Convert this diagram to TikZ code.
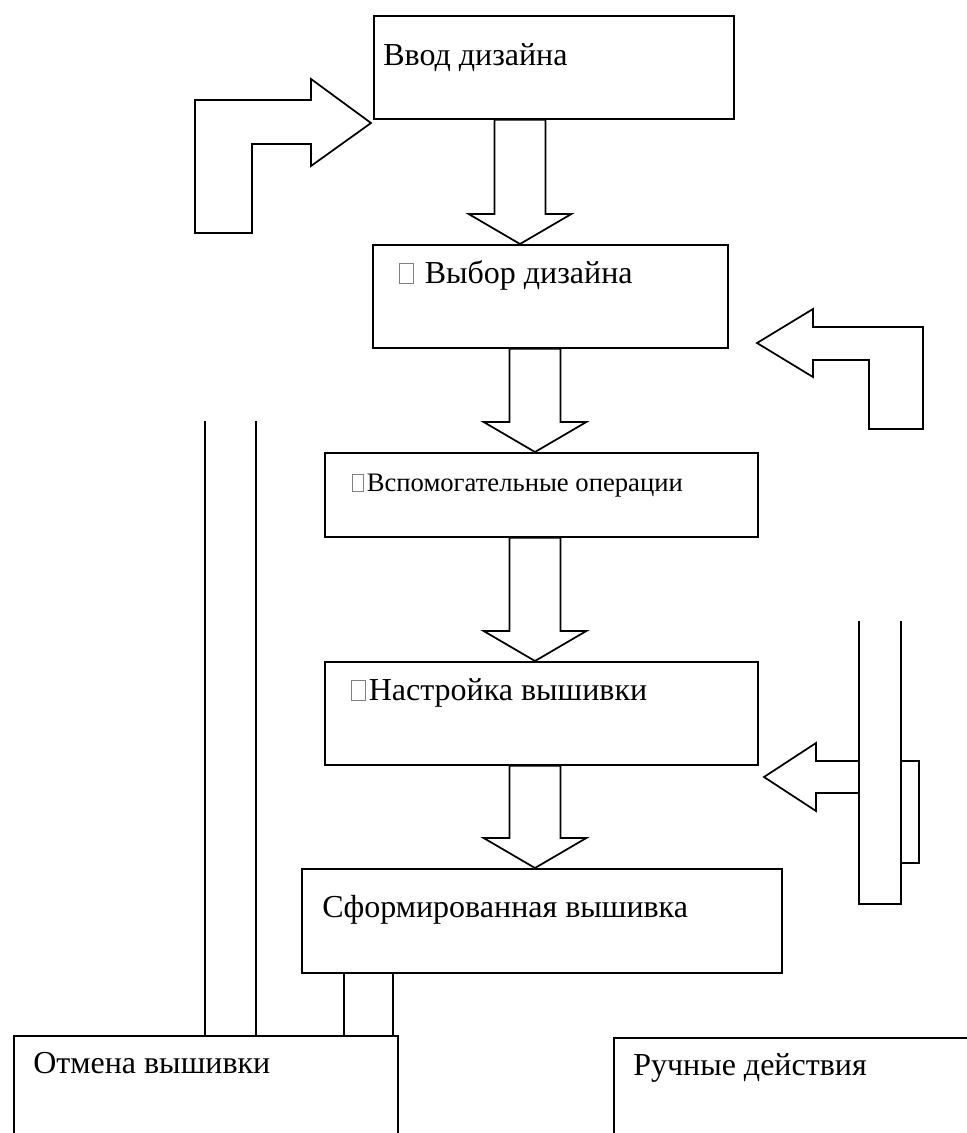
\documentclass[tikz,border=0pt]{standalone}
\usepackage{fontspec}
\setmainfont{Liberation Serif}
\usetikzlibrary{calc}

% empty glyph box as printed in the source
\newcommand{\nochar}{{\color{gray}\setlength{\fboxsep}{0pt}\setlength{\fboxrule}{0.5pt}\kern0.05em\fbox{\rule{0pt}{0.62em}\hspace{0.42em}}\kern0.1em}}

% hollow block arrow from one stage down to the next
\newcommand{\blockdown}[3]{%
  \draw[blockarr] let \p1=(#1,0 |- #2.south), \p2=(#1,0 |- #3.north) in
    (\x1-19.2pt,\y1) -- (\x1-19.2pt,\y2+22.5pt) -- (\x1-38.5pt,\y2+22.5pt) -- (\x1,\y2)
    -- (\x1+38.5pt,\y2+22.5pt) -- (\x1+19.2pt,\y2+22.5pt) -- (\x1+19.2pt,\y1) -- cycle;}

\begin{document}
\begin{tikzpicture}[x=0.75pt,y=-0.75pt,
  stage/.style={draw,line width=1.3pt,anchor=north west,inner sep=0pt},
  stagetext/.style={anchor=base west,inner sep=0pt,font=\fontsize{24}{29}\selectfont},
  smalltext/.style={anchor=base west,inner sep=0pt,font=\fontsize{20}{24}\selectfont},
  blockarr/.style={line width=1.3pt,line join=miter},
  thinline/.style={line width=1pt}]
\useasboundingbox (0,0) rectangle (967,1133);

% stages
\node[stage,minimum width=270pt,minimum height=77.25pt] (vvod) at (373,15) {};
\node[stagetext] (vvodtext) at ([shift={(10,50)}]vvod.north west) {Ввод дизайна};
\node[stage,minimum width=266.25pt,minimum height=77.25pt] (vybor) at (372,244) {};
\node[stagetext] (vybortext) at ([shift={(25,39)}]vybor.north west) {\nochar{} Выбор дизайна};
\node[stage,minimum width=324.75pt,minimum height=63pt] (vspom) at (324,452) {};
\node[smalltext] (vspomtext) at ([shift={(26,39)}]vspom.north west) {\nochar Вспомогательные операции};
\node[stage,minimum width=324.75pt,minimum height=77.25pt] (nastr) at (324,661) {};
\node[stagetext] (nastrtext) at ([shift={(25,39)}]nastr.north west) {\nochar Настройка вышивки};
\node[stage,minimum width=360pt,minimum height=78pt] (sform) at (301,868) {};
\node[stagetext] (sformtext) at ([shift={(21,49)}]sform.north west) {Сформированная вышивка};
\node[stage,minimum width=288pt,minimum height=82.5pt] (otmena) at (13,1035) {};
\node[stagetext] (otmenatext) at ([shift={(20,38)}]otmena.north west) {Отмена вышивки};
\node[stage,minimum width=277.5pt,minimum height=82.5pt] (ruchn) at (613,1037) {};
\node[stagetext] (ruchntext) at ([shift={(20,38)}]ruchn.north west) {Ручные действия};

% main flow
\blockdown{520}{vvod}{vybor}
\blockdown{535}{vybor}{vspom}
\blockdown{535}{vspom}{nastr}
\blockdown{535}{nastr}{sform}

% bent arrows
\draw[blockarr] (195,233) -- (195,100) -- (311,100) -- (311,79) -- (371,123) -- (311,166)
  -- (311,144) -- (252,144) -- (252,233) -- cycle;
\draw[blockarr] (757,343) -- (813,309) -- (813,327) -- (923,327) -- (923,429) -- (869,429)
  -- (869,360) -- (813,360) -- (813,377) -- cycle;

% manual bar on the right
\coordinate (bartop) at (859,621);
\coordinate (barright) at (901,621);
\draw[thinline] (bartop) -- (859,904) -- (901,904) -- (barright);
\draw[blockarr] (901,761) -- (919,761) -- (919,863) -- (901,863);
\draw[blockarr] (859,761) -- (816,761) -- (816,743) -- (764,777) -- (816,811) -- (816,793) -- (859,793);

% links to cancel
\coordinate (cancelA) at (205,421);
\coordinate (cancelB) at (256,421);
\draw[thinline] (cancelA) -- (cancelA |- otmena.north);
\draw[thinline] (cancelB) -- (cancelB |- otmena.north);
\draw[thinline] (344,0 |- sform.south) -- (344,0 |- otmena.north);
\draw[thinline] (393,0 |- sform.south) -- (393,0 |- otmena.north);
\end{tikzpicture}
\end{document}
